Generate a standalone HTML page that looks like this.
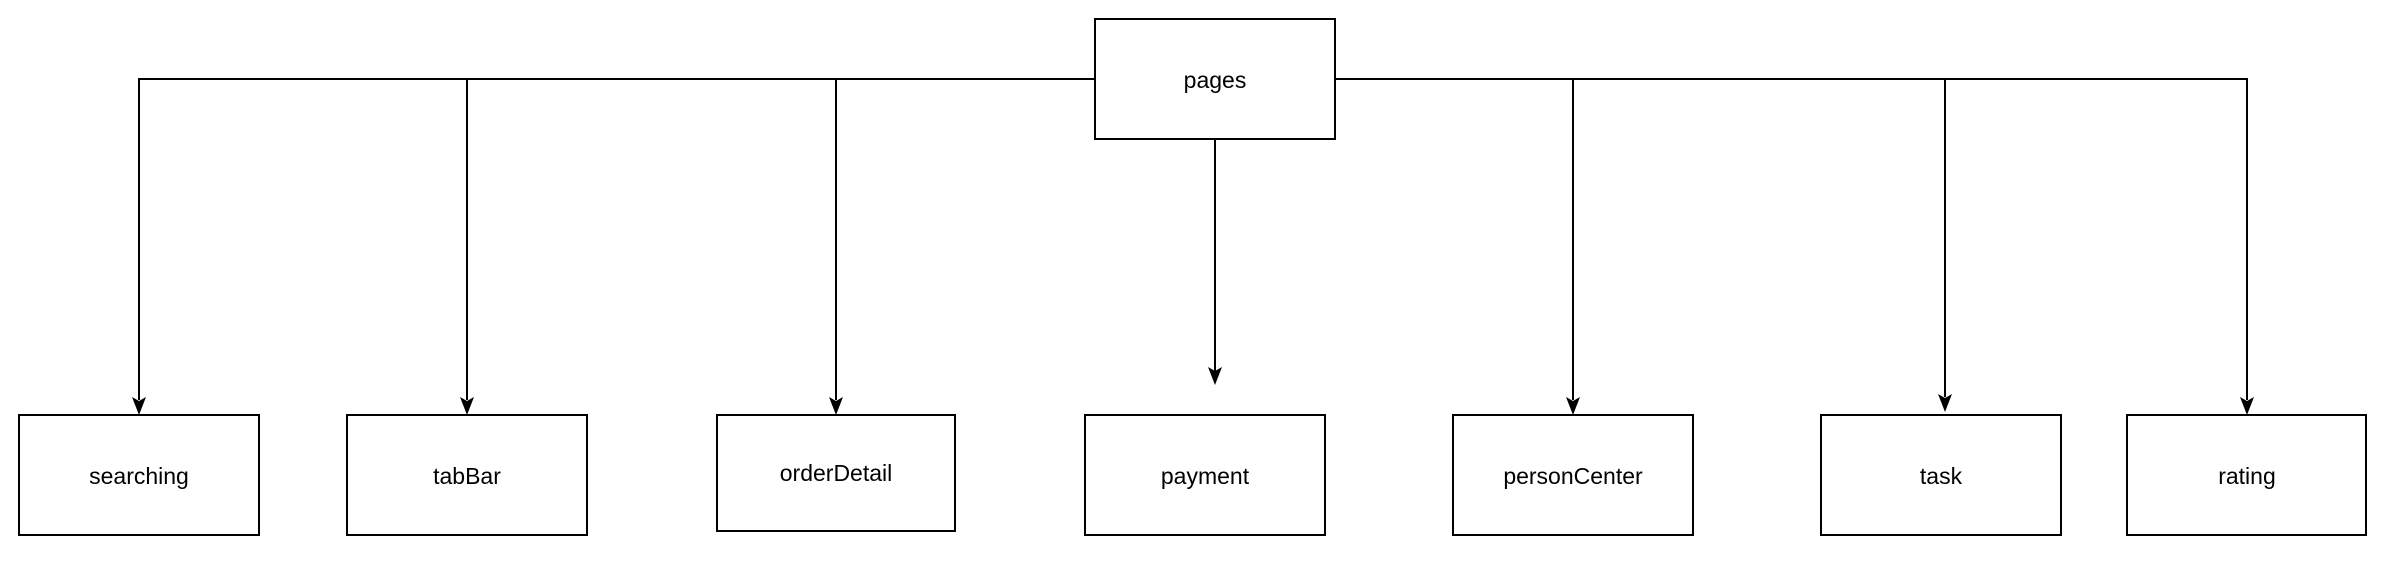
<!DOCTYPE html>
<html><head><meta charset="utf-8"><style>
html,body{margin:0;padding:0;background:#fff;width:2394px;height:570px;overflow:hidden}
svg text{font-family:"Liberation Sans",Helvetica,Arial,sans-serif;font-size:23px;fill:#000;text-anchor:middle;dominant-baseline:central}
</style></head><body>
<svg width="2394" height="570" viewBox="0 0 2394 570" xmlns="http://www.w3.org/2000/svg">
<g fill="none" stroke="#000" stroke-width="2">
<path d="M1095 79 H139 V400"/>
<path d="M467 79 V400"/>
<path d="M836 79 V400"/>
<path d="M1335 79 H2247 V400"/>
<path d="M1573 79 V400"/>
<path d="M1945 79 V397"/>
<path d="M1215 139 V371"/>
</g>
<g fill="#000">
<path d="M139 415 L132 397 L139 401 L146 397 Z"/>
<path d="M467 415 L460 397 L467 401 L474 397 Z"/>
<path d="M836 415 L829 397 L836 401 L843 397 Z"/>
<path d="M1573 415 L1566 397 L1573 401 L1580 397 Z"/>
<path d="M1945 412 L1938 394 L1945 398 L1952 394 Z"/>
<path d="M2247 415 L2240 397 L2247 401 L2254 397 Z"/>
<path d="M1215 385 L1208 367 L1215 371 L1222 367 Z"/>
</g>
<g fill="#fff" stroke="#000" stroke-width="2">
<rect x="1095" y="19" width="240" height="120"/>
<rect x="19" y="415" width="240" height="120"/>
<rect x="347" y="415" width="240" height="120"/>
<rect x="717" y="415" width="238" height="116"/>
<rect x="1085" y="415" width="240" height="120"/>
<rect x="1453" y="415" width="240" height="120"/>
<rect x="1821" y="415" width="240" height="120"/>
<rect x="2127" y="415" width="239" height="120"/>
</g>
<text x="1215" y="80">pages</text>
<text x="139" y="476">searching</text>
<text x="467" y="476">tabBar</text>
<text x="836" y="473">orderDetail</text>
<text x="1205" y="476">payment</text>
<text x="1573" y="476">personCenter</text>
<text x="1941" y="476">task</text>
<text x="2247" y="476">rating</text>
</svg>
</body></html>
